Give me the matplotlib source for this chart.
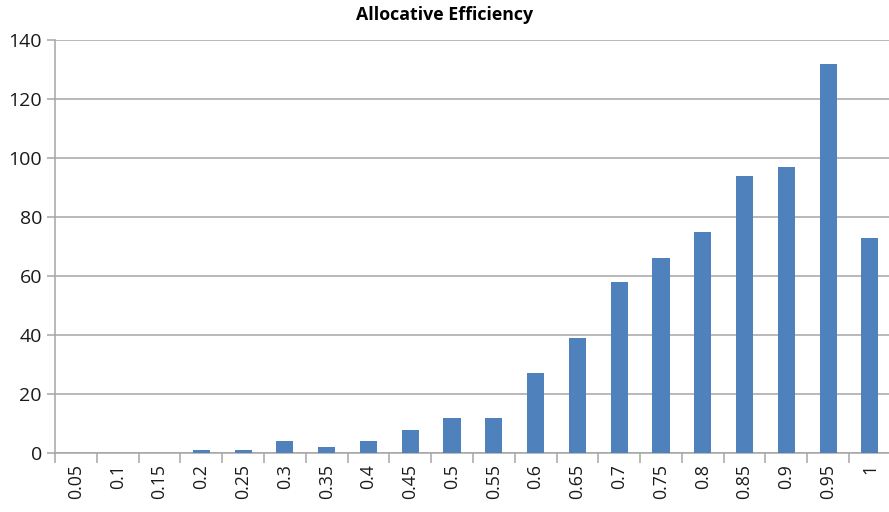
import matplotlib.pyplot as plt
import numpy as np

categories = ["0.05", "0.1", "0.15", "0.2", "0.25", "0.3", "0.35", "0.4", "0.45", "0.5",
              "0.55", "0.6", "0.65", "0.7", "0.75", "0.8", "0.85", "0.9", "0.95", "1"]
counts = [0, 0, 0, 1, 1, 4, 2, 4, 8, 12, 12, 27, 39, 58, 66, 75, 94, 97, 132, 73]
y_ticks = [0, 20, 40, 60, 80, 100, 120, 140]

plt.rcParams['font.family'] = ['Open Sans', 'DejaVu Sans']
grid_col = "#A6A6A6"

fig = plt.figure(figsize=(8.89, 5.12), dpi=100)
ax = fig.add_axes([0.062, 0.115, 0.94, 0.807])

x = np.arange(len(categories))
ax.bar(x, counts, width=0.41, color="#4F81BD", zorder=3)

ax.set_xlim(-0.5, len(categories) - 0.5)
ax.set_ylim(0, 140)
ax.set_yticks(y_ticks)
ax.yaxis.grid(True, color=grid_col, linewidth=1.1, zorder=0)

ax.set_xticks(x)
ax.set_xticklabels(categories, rotation=90, fontsize=12.8, color="#1a1a1a")
ax.set_xticks(np.arange(len(categories) + 1) - 0.5, minor=True)
ax.tick_params(axis="x", which="major", length=0, pad=8)
ax.tick_params(axis="x", which="minor", length=7, color=grid_col, width=1.1)
ax.tick_params(axis="y", length=6, color=grid_col, width=1.1, labelsize=14, labelcolor="#1a1a1a")

for side in ["top", "right"]:
    ax.spines[side].set_visible(False)
for side in ["left", "bottom"]:
    ax.spines[side].set_color(grid_col)
    ax.spines[side].set_linewidth(1.1)

fig.text(0.5, 0.97, "Allocative Efficiency", ha="center", va="center",
         fontsize=12.8, fontweight="bold")

fig.savefig("out.png", dpi=100)
